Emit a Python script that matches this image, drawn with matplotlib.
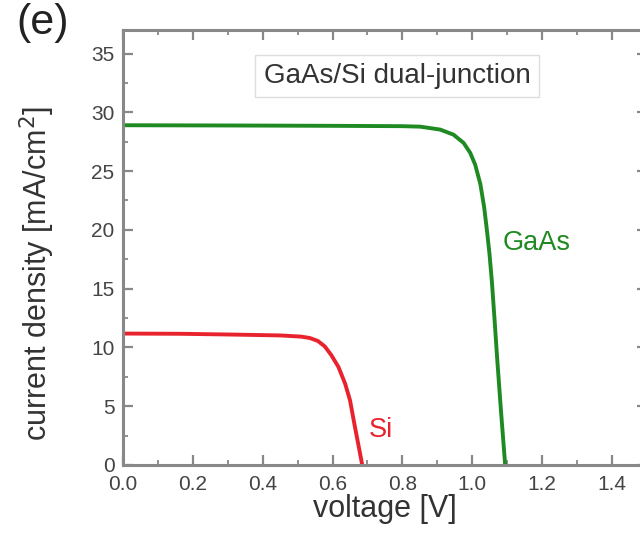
import matplotlib
matplotlib.use("Agg")
import matplotlib.pyplot as plt
from matplotlib.ticker import MultipleLocator, FormatStrFormatter

plt.rcParams['font.family'] = ['Liberation Sans', 'DejaVu Sans']

# J-V curves (voltage [V], current density [mA/cm2])
gaas_v = [0.0, 0.3, 0.6, 0.8, 0.851, 0.908, 0.946, 0.975, 0.994, 1.008, 1.023, 1.034,
          1.042, 1.049, 1.056, 1.064, 1.071, 1.082, 1.094]
gaas_j = [28.9, 28.88, 28.85, 28.82, 28.78, 28.53, 28.1, 27.4, 26.55, 25.56, 23.9, 21.9,
          19.9, 18.0, 15.6, 12.2, 9.1, 4.6, 0.0]

si_v = [0.0, 0.163, 0.3, 0.45, 0.51, 0.535, 0.558, 0.578, 0.597, 0.617, 0.636, 0.65,
        0.664, 0.685]
si_j = [11.18, 11.16, 11.1, 11.02, 10.92, 10.8, 10.55, 10.08, 9.32, 8.33, 6.92, 5.5,
        3.25, 0.0]

gray = '#888888'
green = '#1f8a22'
red = '#e8232d'

fig = plt.figure(figsize=(6.4, 5.36), dpi=100)
ax = fig.add_axes([0.192, 0.1325, 0.819, 0.8115])

ax.plot(gaas_v, gaas_j, color=green, lw=2.8)
ax.plot(si_v, si_j, color=red, lw=2.8)

ax.set_xlim(0, 1.5)
ax.set_ylim(0, 37)
ax.xaxis.set_major_locator(MultipleLocator(0.2))
ax.xaxis.set_minor_locator(MultipleLocator(0.1))
ax.yaxis.set_major_locator(MultipleLocator(5))
ax.yaxis.set_minor_locator(MultipleLocator(2.5))
ax.xaxis.set_major_formatter(FormatStrFormatter('%.1f'))

for s in ax.spines.values():
    s.set_color(gray)
    s.set_linewidth(2.2)
ax.tick_params(which='both', direction='in', top=True, right=True, color=gray,
               labelcolor='#444444', labelsize=15)
ax.tick_params(which='major', length=7, width=1.6)
ax.tick_params(which='minor', length=3.6, width=1.3)
ax.tick_params(axis='x', pad=7)
ax.tick_params(axis='y', pad=6)

ax.set_xlabel('voltage [V]', fontsize=22, color='#333333', labelpad=0)
ax.set_ylabel('current density [mA/cm$^2$]', fontsize=22, color='#333333', labelpad=2)
ax.yaxis.set_label_coords(-0.125, 0.44)

ax.text(0.785, 33.1, 'GaAs/Si dual-junction', fontsize=20, color='#333333',
        ha='center', va='center',
        bbox=dict(boxstyle='square,pad=0.3', fc='white', ec='#dddddd', lw=1))
ax.text(1.086, 18.9, 'GaAs', fontsize=19.5, color=green, ha='left', va='center')
ax.text(0.705, 3.0, 'Si', fontsize=19.5, color=red, ha='left', va='center')

fig.text(0.025, 0.957, '(e)', fontsize=31, color='#222222', ha='left', va='center')

fig.savefig('out.png', dpi=100)
